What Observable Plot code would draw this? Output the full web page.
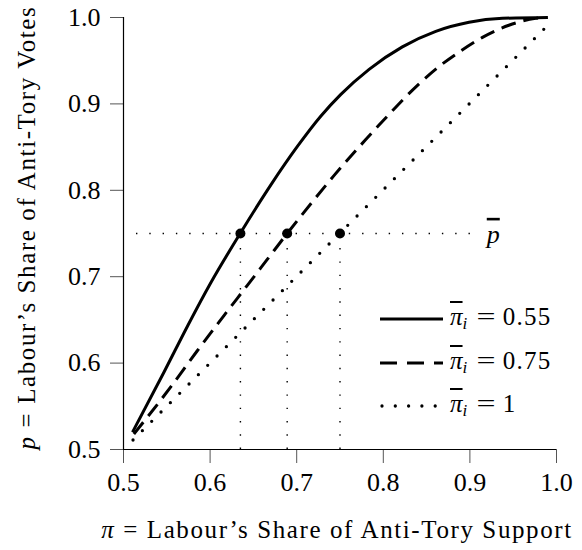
<!DOCTYPE html>
<html><head><meta charset="utf-8">
<script src="https://cdn.jsdelivr.net/npm/d3@7"></script>
<script src="https://cdn.jsdelivr.net/npm/@observablehq/plot@0.6"></script>
<style>
body{margin:0;background:#fff;}
#wrap{position:relative;width:582px;height:550px;background:#fff;}
#legend{position:absolute;left:380px;top:0;font-family:"Liberation Serif",serif;font-size:25px;color:#000;}
.row{position:absolute;left:0;height:30px;white-space:nowrap;display:flex;align-items:center;}
.row svg{display:block;}
.row .lab{margin-left:7px;}
.ob{text-decoration:overline;font-style:italic;}
.row sub{font-size:0.68em;font-style:italic;vertical-align:-0.25em;}
.eq{margin:0 0.3em 0 0.45em;display:inline-block;transform:scaleX(1.35);}
.num{letter-spacing:1.3px;margin-left:0.1em;}
</style></head><body><div id="wrap"><div id="legend"></div></div>
<script>
// ---- data ----
const xTicks = [0.5, 0.6, 0.7, 0.8, 0.9, 1.0];
const yTicks = [0.5, 0.6, 0.7, 0.8, 0.9, 1.0];
const seriesNames = ["0.55", "0.75", "1"];

const piSolid = [0.5104, 0.547, 0.574, 0.6008, 0.6347, 0.670, 0.701, 0.728, 0.751, 0.7836, 0.822, 0.8606, 0.899, 0.9376, 0.9896];
const pSolid  = [0.520, 0.590, 0.643, 0.693, 0.750, 0.806, 0.851, 0.886, 0.911, 0.940, 0.966, 0.984, 0.9945, 0.999, 1.0];

const piDashed = [0.512, 0.528, 0.555, 0.585, 0.616, 0.643, 0.666, 0.689, 0.720, 0.743, 0.780, 0.803, 0.841, 0.864, 0.8875, 0.9145, 0.945, 0.976, 0.99];
const pDashed  = [0.518, 0.538, 0.573, 0.614, 0.655, 0.690, 0.720, 0.750, 0.789, 0.817, 0.859, 0.884, 0.923, 0.943, 0.960, 0.977, 0.991, 0.999, 1.0];

const piDotted = [0.511, 0.988];
const pDotted  = [0.511, 0.989];

const piStar = [0.635, 0.689, 0.75];
const pBar = 0.75;
const hLineStart = 0.515;
const hLineEnd = 0.901;

const xLabelSym = "π";
const xLabelText = " = Labour’s Share of Anti-Tory Support";
const yLabelSym = "p";
const yLabelText = " = Labour’s Share of Anti-Tory Votes";
const pBarLabel = "p";

// ---- styles ----
const styles = [
  {strokeWidth: 3, strokeLinecap: "butt"},
  {strokeWidth: 3, strokeDasharray: "15,8", strokeLinecap: "butt"},
  {strokeWidth: 3.3, strokeDasharray: "0,13.2", strokeLinecap: "round"}
];
const series = [
  d3.zip(piSolid, pSolid),
  d3.zip(piDashed, pDashed),
  d3.zip(piDotted, pDotted)
];

const refDash = {stroke: "black", strokeWidth: 1.4, strokeDasharray: "1.4,11.9"};

const plot = Plot.plot({
  width: 582, height: 550,
  marginLeft: 123, marginRight: 26, marginTop: 17, marginBottom: 101,
  x: {domain: [0.5, 1]},
  y: {domain: [0.5, 1]},
  style: {fontFamily: '"Liberation Serif", serif', fontSize: "26px", background: "white", color: "black"},
  marks: [
    Plot.ruleY([pBar], {x1: hLineStart, x2: hLineEnd, ...refDash}),
    Plot.ruleX(piStar, {x: d => d, y1: yTicks[0], y2: pBar, ...refDash}),
    ...series.map((s, i) => Plot.line(s, {x: d => d[0], y: d => d[1], curve: "monotone-x", stroke: "black", ...styles[i]})),
    Plot.dot(piStar, {x: d => d, y: () => pBar, r: 5, fill: "black", stroke: null}),
    Plot.text([pBarLabel], {x: () => hLineEnd, y: () => pBar, dx: 16, textAnchor: "start", fontStyle: "italic", fontSize: 26, dy: 1}),
    Plot.axisX({ticks: xTicks, tickSize: 14, tickPadding: 9, tickFormat: d => d.toFixed(1), label: null, stroke: "#555"}),
    Plot.axisY({ticks: yTicks, tickSize: 13, tickPadding: 10, tickFormat: d => d.toFixed(1), label: null, stroke: "#555"}),
    Plot.ruleX([xTicks[0]], {stroke: "black", strokeWidth: 1.2}),
    Plot.ruleY([yTicks[0]], {stroke: "black", strokeWidth: 1.2}),
    Plot.text([xLabelSym + xLabelText], {frameAnchor: "bottom", textAnchor: "middle", lineAnchor: "middle", dy: 80, dx: -3, fontSize: 25}),
    Plot.text([yLabelSym + yLabelText], {frameAnchor: "left", textAnchor: "middle", lineAnchor: "middle", rotate: -90, dx: -97, dy: -6, fontSize: 25})
  ]
});

// mixed styling for labels
d3.select(plot).selectAll("text").each(function() {
  const t = d3.select(this);
  const s = this.textContent;
  let sym = null, rest = null;
  if (s === xLabelSym + xLabelText) { sym = xLabelSym; rest = xLabelText; }
  if (s === yLabelSym + yLabelText) { sym = yLabelSym; rest = yLabelText; }
  if (sym) {
    t.text(null).style("letter-spacing", "1.6px");
    t.append("tspan").attr("font-style", "italic").text(sym);
    t.append("tspan").text(rest);
  }
});
d3.select(plot).selectAll("text").filter(function(){return this.textContent === pBarLabel;}).style("text-decoration", "overline");

document.getElementById("wrap").prepend(plot);

// legend
const legend = d3.select("#legend");
const rowCenters = [319, 363, 406];
seriesNames.forEach((name, i) => {
  const row = legend.append("div").attr("class", "row").style("top", (rowCenters[i] - 15) + "px");
  const svg = row.append("svg").attr("width", 63).attr("height", 10);
  const ln = svg.append("line").attr("x1", i === 2 ? 2 : 0).attr("x2", 63).attr("y1", 5).attr("y2", 5)
    .attr("stroke", "black").attr("stroke-width", styles[i].strokeWidth).attr("stroke-linecap", styles[i].strokeLinecap);
  if (i === 1) ln.attr("stroke-dasharray", "17,10");
  if (i === 2) ln.attr("stroke-dasharray", "0,13.3");
  row.append("span").attr("class", "lab").html(`<span class="ob">π</span><sub>i</sub><span class="eq">=</span><span class="num">${name}</span>`);
});
</script>
</body></html>
